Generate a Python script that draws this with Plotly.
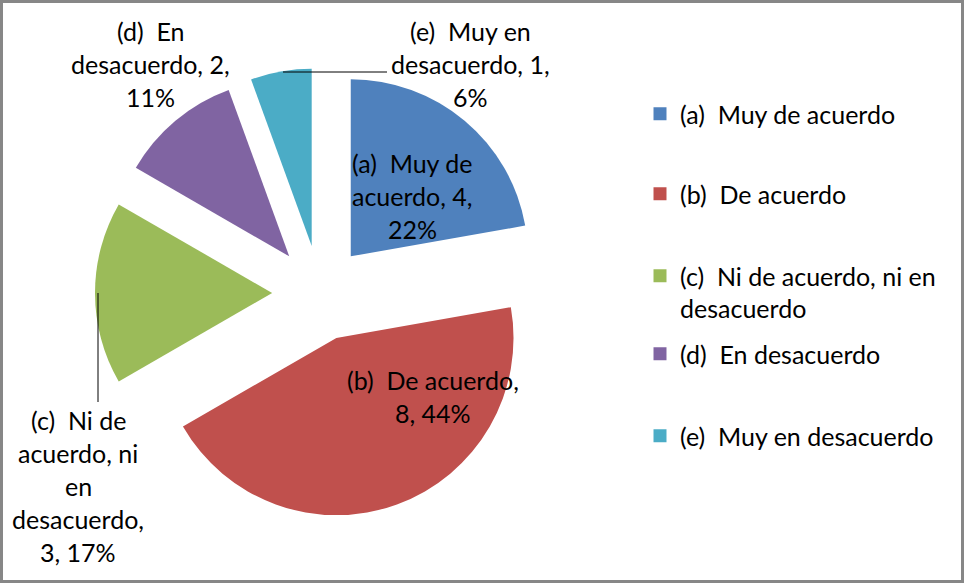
import plotly.graph_objects as go

# survey answers
categories = ['(a)\u00a0 Muy de acuerdo', '(b)\u00a0 De acuerdo',
              '(c)\u00a0 Ni de acuerdo, ni en desacuerdo',
              '(d)\u00a0 En desacuerdo', '(e)\u00a0 Muy en desacuerdo']
counts = [4, 8, 3, 2, 1]
legend_text = ['(a)\u00a0 Muy de acuerdo', '(b)\u00a0 De acuerdo',
               '(c)\u00a0 Ni de acuerdo, ni en<br>desacuerdo',
               '(d)\u00a0 En desacuerdo', '(e)\u00a0 Muy en desacuerdo']
# wrapped data labels (value / percent filled in below)
label_lines = [['(a)\u00a0 Muy de', 'acuerdo, {v},', '{p}%'],
               ['(b)\u00a0 De acuerdo,', '{v}, {p}%'],
               ['(c)\u00a0 Ni de', 'acuerdo, ni', 'en', 'desacuerdo,', '{v}, {p}%'],
               ['(d)\u00a0 En', 'desacuerdo, {v},', '{p}%'],
               ['(e)\u00a0 Muy en', 'desacuerdo, {v},', '{p}%']]

colors = ['#4F81BD', '#C0504D', '#9BBB59', '#8064A2', '#4BACC6']
W, H = 964, 583
FONT = 'Lato'
FS = 25
label_xy = [(412, 163), (433, 380), (78, 420), (150, 31), (470, 31)]
legend_y = [115, 195, 277, 355, 437]
line_step = 33

total = sum(counts)

fig = go.Figure()
fig.add_trace(go.Pie(labels = categories, values = counts, sort = False, direction = 'clockwise',
                     rotation = 0, pull = [0.27] * len(counts), textinfo = 'none', hoverinfo = 'label+value+percent',
                     marker = dict(colors = colors, line = dict(width = 0)), showlegend = False,
                     domain = dict(x = [94 / W, 546 / W], y = [1 - 518 / H, 1 - 68 / H])))

# one small legend per entry so the spacing matches the original
legends = {}
for i, (name, col) in enumerate(zip(legend_text, colors)):
  key = 'legend' if i == 0 else 'legend' + str(i + 1)
  fig.add_trace(go.Scatter(x = [None], y = [None], mode = 'markers', name = name, legend = key,
                           marker = dict(symbol = 'square', size = 13, color = col)))
  legends[key] = dict(x = 640 / W, xanchor = 'left', y = 1 - (legend_y[i] - 24) / H, yanchor = 'top', valign = 'top',
                      font = dict(family = FONT, size = FS, color = 'black'), bgcolor = 'rgba(0,0,0,0)')

for i, lines in enumerate(label_lines):
  pct = round(100.0 * counts[i] / total)
  x0, y0 = label_xy[i]
  for k, ln in enumerate(lines):
    fig.add_annotation(x = x0 / W, y = 1 - (y0 + k * line_step) / H, xref = 'paper', yref = 'paper',
                       text = ln.format(v = counts[i], p = pct), showarrow = False,
                       xanchor = 'center', yanchor = 'middle',
                       font = dict(family = FONT, size = FS, color = 'black'))

# leader lines
fig.add_shape(type = 'line', xref = 'paper', yref = 'paper', x0 = 283 / W, x1 = 387 / W, y0 = 1 - 72 / H, y1 = 1 - 72 / H,
              line = dict(color = 'black', width = 1))
fig.add_shape(type = 'line', xref = 'paper', yref = 'paper', x0 = 98 / W, x1 = 98 / W, y0 = 1 - 293 / H, y1 = 1 - 402 / H,
              line = dict(color = 'black', width = 1))
# chart frame
fig.add_shape(type = 'rect', xref = 'paper', yref = 'paper', x0 = 1.5 / W, x1 = 962.5 / W, y0 = 1.5 / H, y1 = 1 - 1.5 / H,
              line = dict(color = '#878787', width = 3))

fig.update_xaxes(visible = False)
fig.update_yaxes(visible = False)
fig.update_layout(width = W, height = H, margin = dict(l = 0, r = 0, t = 0, b = 0),
                  paper_bgcolor = 'white', plot_bgcolor = 'white', **legends)

fig.write_html("out.html", config = dict(displayModeBar = False),
               post_script = "document.body.style.margin = '0';")
